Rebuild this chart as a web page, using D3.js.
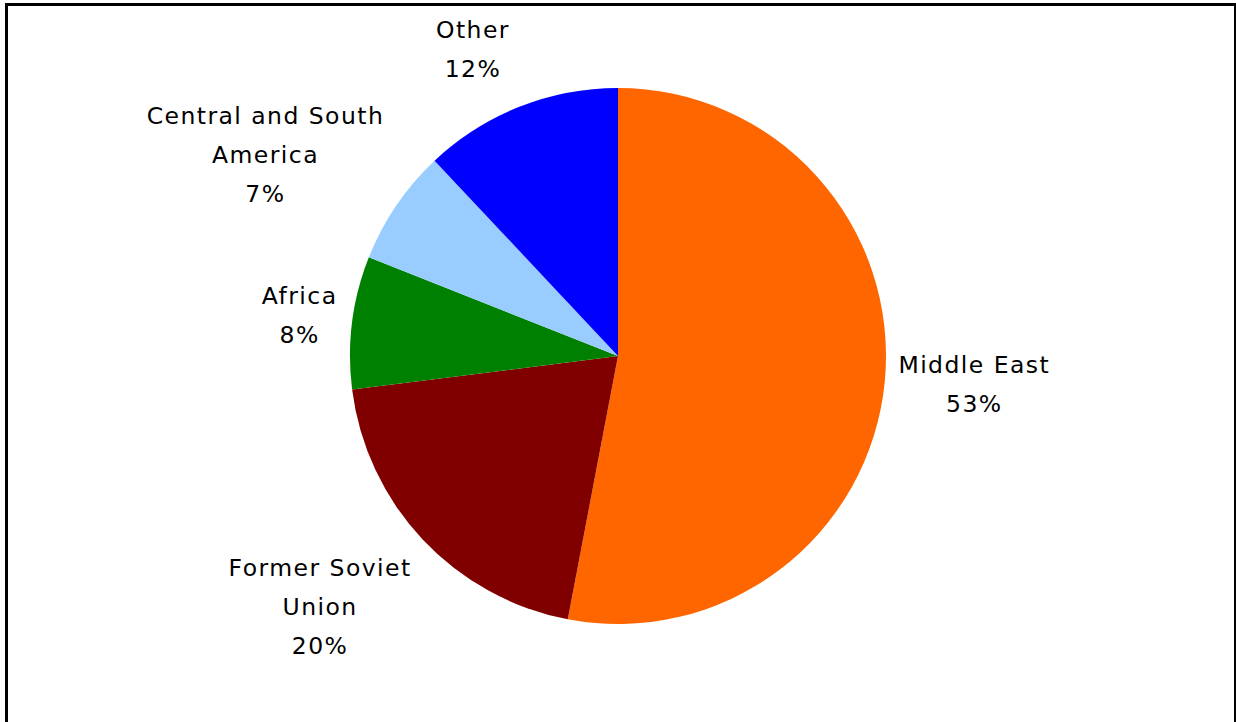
<!DOCTYPE html>
<head>
    <meta charset="utf-8">
    <script src="https://d3js.org/d3.v7.min.js"></script>
    <style>
      body { margin: 0; background: #fff; }
      svg text { font-family: "DejaVu Sans", Verdana, sans-serif; }
    </style>
</head>

<body>
<div id="chart"></div>

<script>
  // data
  var regions = ["Middle East", "Former Soviet Union", "Africa", "Central and South America", "Other"];
  var shares = [53, 20, 8, 7, 12];
  var colors = ["#FF6600", "#800000", "#008000", "#99CCFF", "#0000FF"];
  // how the labels are wrapped in the reference
  var labelLines = [["Middle East"], ["Former Soviet", "Union"], ["Africa"], ["Central and South", "America"], ["Other"]];

  var width = 1236;
  var height = 722;
  var cx = 618, cy = 356, radius = 268;
  var lineH = 38.7;
  // distance from the pie centre to the near edge of each label box, plus small hand nudges
  var labelDist = [282, 313, 283, 305, 300];
  var labelNudge = [[0, -2], [-3, -3], [0, 0], [-2, 3], [-21, 8.5]];

  var svg = d3.select("#chart").append("svg")
      .attr("width", width)
      .attr("height", height);

  // frame
  svg.append("rect")
      .attr("x", 6.5)
      .attr("y", 4.5)
      .attr("width", 1229)
      .attr("height", 760)
      .attr("fill", "none")
      .attr("stroke", "#000")
      .attr("stroke-width", 3);

  var pie = d3.pie().sort(null).value(function(d) { return d; });
  var arcs = pie(shares);
  var arc = d3.arc().innerRadius(0).outerRadius(radius);

  var g = svg.append("g").attr("transform", "translate(" + cx + "," + cy + ")");

  g.selectAll("path.slice")
    .data(arcs)
    .enter()
    .append("path")
    .attr("class", "slice")
    .attr("d", arc)
    .attr("fill", function(d, i) { return colors[i]; });

  var labels = g.selectAll("text.label")
    .data(arcs)
    .enter()
    .append("text")
    .attr("class", "label")
    .attr("text-anchor", "middle")
    .attr("dominant-baseline", "central")
    .style("font-size", "23.5px")
    .style("letter-spacing", "1.45px")
    .attr("fill", "#000");

  labels.each(function(d, i) {
    var t = d3.select(this);
    var lines = labelLines[i].concat([shares[i] + "%"]);
    lines.forEach(function(s, j) {
      t.append("tspan").attr("x", 0).attr("y", (j - (lines.length - 1) / 2) * lineH).text(s);
    });
    var w = this.getBBox().width;
    var h = lines.length * lineH;
    var a = (d.startAngle + d.endAngle) / 2;
    var sx = Math.sin(a), sy = -Math.cos(a);
    var x = labelDist[i] * sx + sx * w / 2 + labelNudge[i][0];
    var y = labelDist[i] * sy + sy * h / 2 + labelNudge[i][1];
    t.attr("transform", "translate(" + x + "," + y + ")");
  });
</script>
</body>
</html>
